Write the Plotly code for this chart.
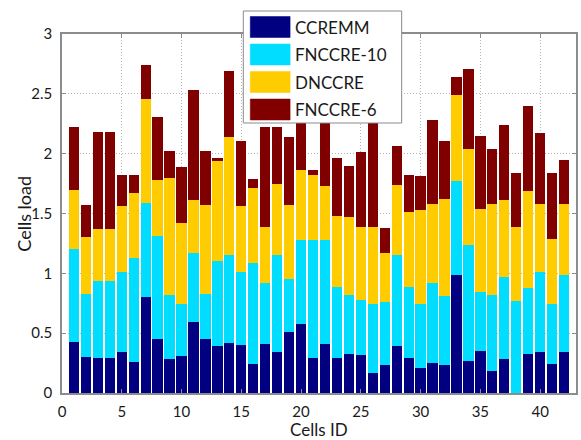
import plotly.graph_objects as go

# Stacked load per cell for the four schemes
cells = list(range(1, 43))

ccremm = [0.43, 0.30, 0.29, 0.29, 0.34, 0.26, 0.80, 0.45, 0.28, 0.31,
          0.59, 0.45, 0.39, 0.42, 0.40, 0.24, 0.41, 0.34, 0.51, 0.58,
          0.29, 0.41, 0.29, 0.33, 0.32, 0.17, 0.23, 0.39, 0.29, 0.21,
          0.25, 0.23, 0.99, 0.27, 0.35, 0.18, 0.28, 0.00, 0.33, 0.34,
          0.24, 0.34]
fnccre10 = [0.77, 0.53, 0.65, 0.65, 0.67, 0.87, 0.79, 0.86, 0.54, 0.43,
            0.58, 0.38, 0.71, 0.73, 0.61, 0.85, 0.51, 0.81, 0.44, 0.70,
            0.99, 0.87, 0.60, 0.49, 0.46, 0.57, 0.53, 0.76, 0.60, 0.53,
            0.67, 0.58, 0.78, 0.97, 0.49, 0.64, 0.69, 0.77, 0.55, 0.67,
            0.50, 0.65]
dnccre = [0.50, 0.47, 0.43, 0.43, 0.55, 0.54, 0.87, 0.47, 0.98, 0.68,
          0.44, 0.74, 0.84, 0.99, 0.55, 0.62, 0.47, 0.60, 0.62, 0.58,
          0.54, 0.45, 0.59, 0.65, 0.61, 0.65, 0.41, 0.59, 0.62, 0.79,
          0.66, 0.81, 0.72, 0.80, 0.70, 0.76, 0.64, 0.62, 0.81, 0.57,
          0.55, 0.59]
fnccre6 = [0.52, 0.27, 0.81, 0.81, 0.26, 0.15, 0.28, 0.53, 0.22, 0.47,
           0.92, 0.45, 0.02, 0.55, 0.55, 0.08, 0.83, 0.47, 0.57, 0.49,
           0.04, 0.68, 0.48, 0.43, 0.62, 0.91, 0.21, 0.32, 0.31, 0.28,
           0.70, 0.49, 0.15, 0.67, 0.61, 0.46, 0.63, 0.45, 0.71, 0.59,
           0.55, 0.37]

series_names = ["CCREMM", "FNCCRE-10", "DNCCRE", "FNCCRE-6"]
series_values = [ccremm, fnccre10, dnccre, fnccre6]
series_colors = ["#000080", "#00DDFF", "#FFCC00", "#800000"]

x_ticks = [0, 5, 10, 15, 20, 25, 30, 35, 40]
y_ticks = [0, 0.5, 1, 1.5, 2, 2.5, 3]

FONT = "Lato, 'Open Sans', sans-serif"
W, H = 581, 440
ML, MR, MT, MB = 62, 3, 34, 47
PW, PH = W - ML - MR, H - MT - MB


def px(x):
    return (x - ML) / PW


def py(y):
    return (H - MB - y) / PH


fig = go.Figure()
for name, vals, col in zip(series_names, series_values, series_colors):
    fig.add_trace(go.Bar(
        x=cells, y=vals, name=name, width=0.86,
        marker=dict(color=col, line=dict(width=0)),
        showlegend=False,
    ))

# Boxed legend with large swatches, placed over the upper middle of the axes
shapes = [dict(type="rect", xref="paper", yref="paper",
               x0=px(244), x1=px(403), y0=py(123), y1=py(11),
               fillcolor="white", line=dict(color="#8a8a8a", width=1),
               layer="above")]
annotations = []
row_y = [27, 54.5, 82, 109.5]
for name, col, yc in zip(series_names, series_colors, row_y):
    shapes.append(dict(type="rect", xref="paper", yref="paper",
                       x0=px(251), x1=px(291), y0=py(yc + 10.5), y1=py(yc - 10.5),
                       fillcolor=col, line=dict(color=col, width=0.5),
                       layer="above"))
    annotations.append(dict(text=name, xref="paper", yref="paper",
                            x=px(294), y=py(yc), xanchor="left", yanchor="middle",
                            showarrow=False,
                            font=dict(family=FONT, size=17, color="#1a1a1a")))

annotations.append(dict(text="Cells ID", xref="paper", yref="paper",
                        x=0.5, y=py(429), xanchor="center", yanchor="middle",
                        showarrow=False,
                        font=dict(family=FONT, size=17, color="#1a1a1a")))
annotations.append(dict(text="Cells load", xref="paper", yref="paper",
                        x=px(23), y=0.5, xanchor="center", yanchor="middle",
                        textangle=-90, showarrow=False,
                        font=dict(family=FONT, size=18, color="#1a1a1a")))

axis_common = dict(
    showline=True, linecolor="#8c8c8c", linewidth=1.5, mirror="ticks",
    ticks="inside", ticklen=4, tickcolor="#8c8c8c", tickwidth=1,
    showgrid=True, gridcolor="#b5b5b5", gridwidth=1, griddash="1px,2px",
    zeroline=False,
    tickfont=dict(family=FONT, size=15, color="#1a1a1a"),
)

fig.update_layout(
    barmode="stack",
    bargap=0,
    width=W, height=H,
    margin=dict(l=ML, r=MR, t=MT, b=MB, pad=0),
    paper_bgcolor="white", plot_bgcolor="white",
    xaxis=dict(range=[0, 43], tickmode="array", tickvals=x_ticks,
               ticklabelstandoff=4, **axis_common),
    yaxis=dict(range=[0, 3], tickmode="array", tickvals=y_ticks,
               ticklabelstandoff=5, **axis_common),
    shapes=shapes,
    annotations=annotations,
)

fig.write_html("out.html")
